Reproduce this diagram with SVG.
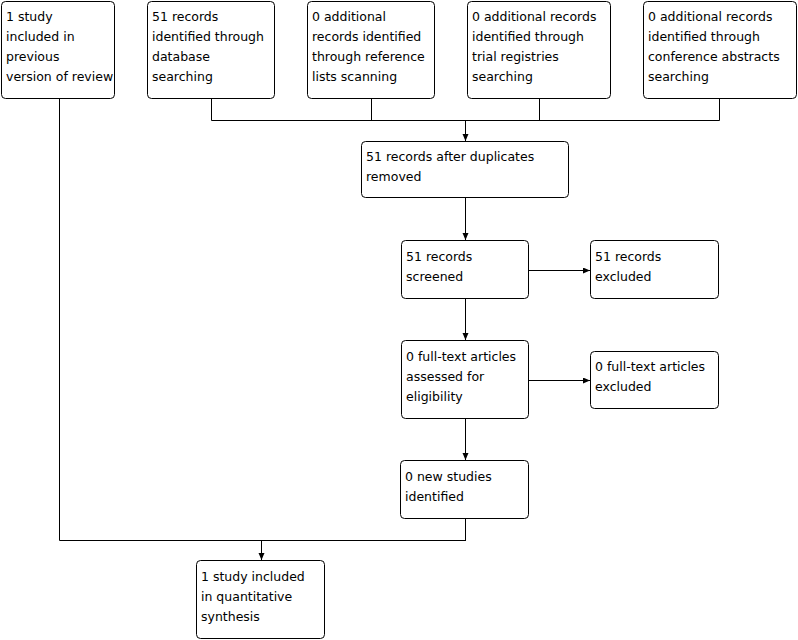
<svg xmlns="http://www.w3.org/2000/svg" width="798" height="640" viewBox="0 0 798 640">
<defs>
<style>
.box{fill:#fff;stroke:#000;stroke-width:1}
text{font-family:"DejaVu Sans","Liberation Sans",sans-serif;font-size:12.5px;fill:#000}
.c{fill:none;stroke:#000;stroke-width:1}
</style>
<marker id="ah" markerWidth="8" markerHeight="8" refX="7" refY="3" orient="auto" markerUnits="userSpaceOnUse">
<path d="M0,0 L7,3 L0,6 Z" fill="#000"/>
</marker>
</defs>
<rect width="798" height="640" fill="#fff"/>
<g id="connectors">
<path class="c" d="M59.5,99 V540.5 H465.5"/>
<path class="c" d="M211.5,99 V120.5 H719.5 V99"/>
<path class="c" d="M371.5,99 V120.5"/>
<path class="c" d="M539.5,99 V120.5"/>
<path class="c" d="M465.5,120 V141" marker-end="url(#ah)"/>
<path class="c" d="M465.5,198 V240" marker-end="url(#ah)"/>
<path class="c" d="M529,270.5 H590" marker-end="url(#ah)"/>
<path class="c" d="M465.5,299 V340" marker-end="url(#ah)"/>
<path class="c" d="M529,380.5 H590" marker-end="url(#ah)"/>
<path class="c" d="M465.5,419 V460" marker-end="url(#ah)"/>
<path class="c" d="M465.5,519 V541"/>
<path class="c" d="M261.5,540 V560" marker-end="url(#ah)"/>
</g>
<g id="n1"><rect class="box" x="1.5" y="1.5" width="113" height="97" rx="4"/>
<text x="6" y="21">1 study</text><text x="6" y="41">included in</text><text x="6" y="61">previous</text><text x="6" y="81">version of review</text></g>
<g id="n2"><rect class="box" x="147.5" y="1.5" width="127" height="97" rx="4"/>
<text x="152" y="21">51 records</text><text x="152" y="41">identified through</text><text x="152" y="61">database</text><text x="152" y="81">searching</text></g>
<g id="n3"><rect class="box" x="307.5" y="1.5" width="127" height="97" rx="4"/>
<text x="312" y="21">0 additional</text><text x="312" y="41">records identified</text><text x="312" y="61">through reference</text><text x="312" y="81">lists scanning</text></g>
<g id="n4"><rect class="box" x="467.5" y="1.5" width="143" height="97" rx="4"/>
<text x="472" y="21">0 additional records</text><text x="472" y="41">identified through</text><text x="472" y="61">trial registries</text><text x="472" y="81">searching</text></g>
<g id="n5"><rect class="box" x="643.5" y="1.5" width="153" height="97" rx="4"/>
<text x="648" y="21">0 additional records</text><text x="648" y="41">identified through</text><text x="648" y="61">conference abstracts</text><text x="648" y="81">searching</text></g>
<g id="n6"><rect class="box" x="361.5" y="141.5" width="207" height="56" rx="4"/>
<text x="366" y="161">51 records after duplicates</text><text x="366" y="181">removed</text></g>
<g id="n7"><rect class="box" x="401.5" y="240.5" width="127" height="58" rx="4"/>
<text x="406" y="261">51 records</text><text x="406" y="281">screened</text></g>
<g id="n8"><rect class="box" x="590.5" y="240.5" width="128" height="58" rx="4"/>
<text x="595" y="261">51 records</text><text x="595" y="281">excluded</text></g>
<g id="n9"><rect class="box" x="401.5" y="340.5" width="127" height="78" rx="4"/>
<text x="406" y="361">0 full-text articles</text><text x="406" y="381">assessed for</text><text x="406" y="401">eligibility</text></g>
<g id="n10"><rect class="box" x="590.5" y="351.5" width="128" height="57" rx="4"/>
<text x="595" y="371">0 full-text articles</text><text x="595" y="391">excluded</text></g>
<g id="n11"><rect class="box" x="400.5" y="460.5" width="128" height="58" rx="4"/>
<text x="405" y="481">0 new studies</text><text x="405" y="501">identified</text></g>
<g id="n12"><rect class="box" x="196.5" y="560.5" width="128" height="78" rx="4"/>
<text x="201" y="581">1 study included</text><text x="201" y="601">in quantitative</text><text x="201" y="621">synthesis</text></g>
</svg>
